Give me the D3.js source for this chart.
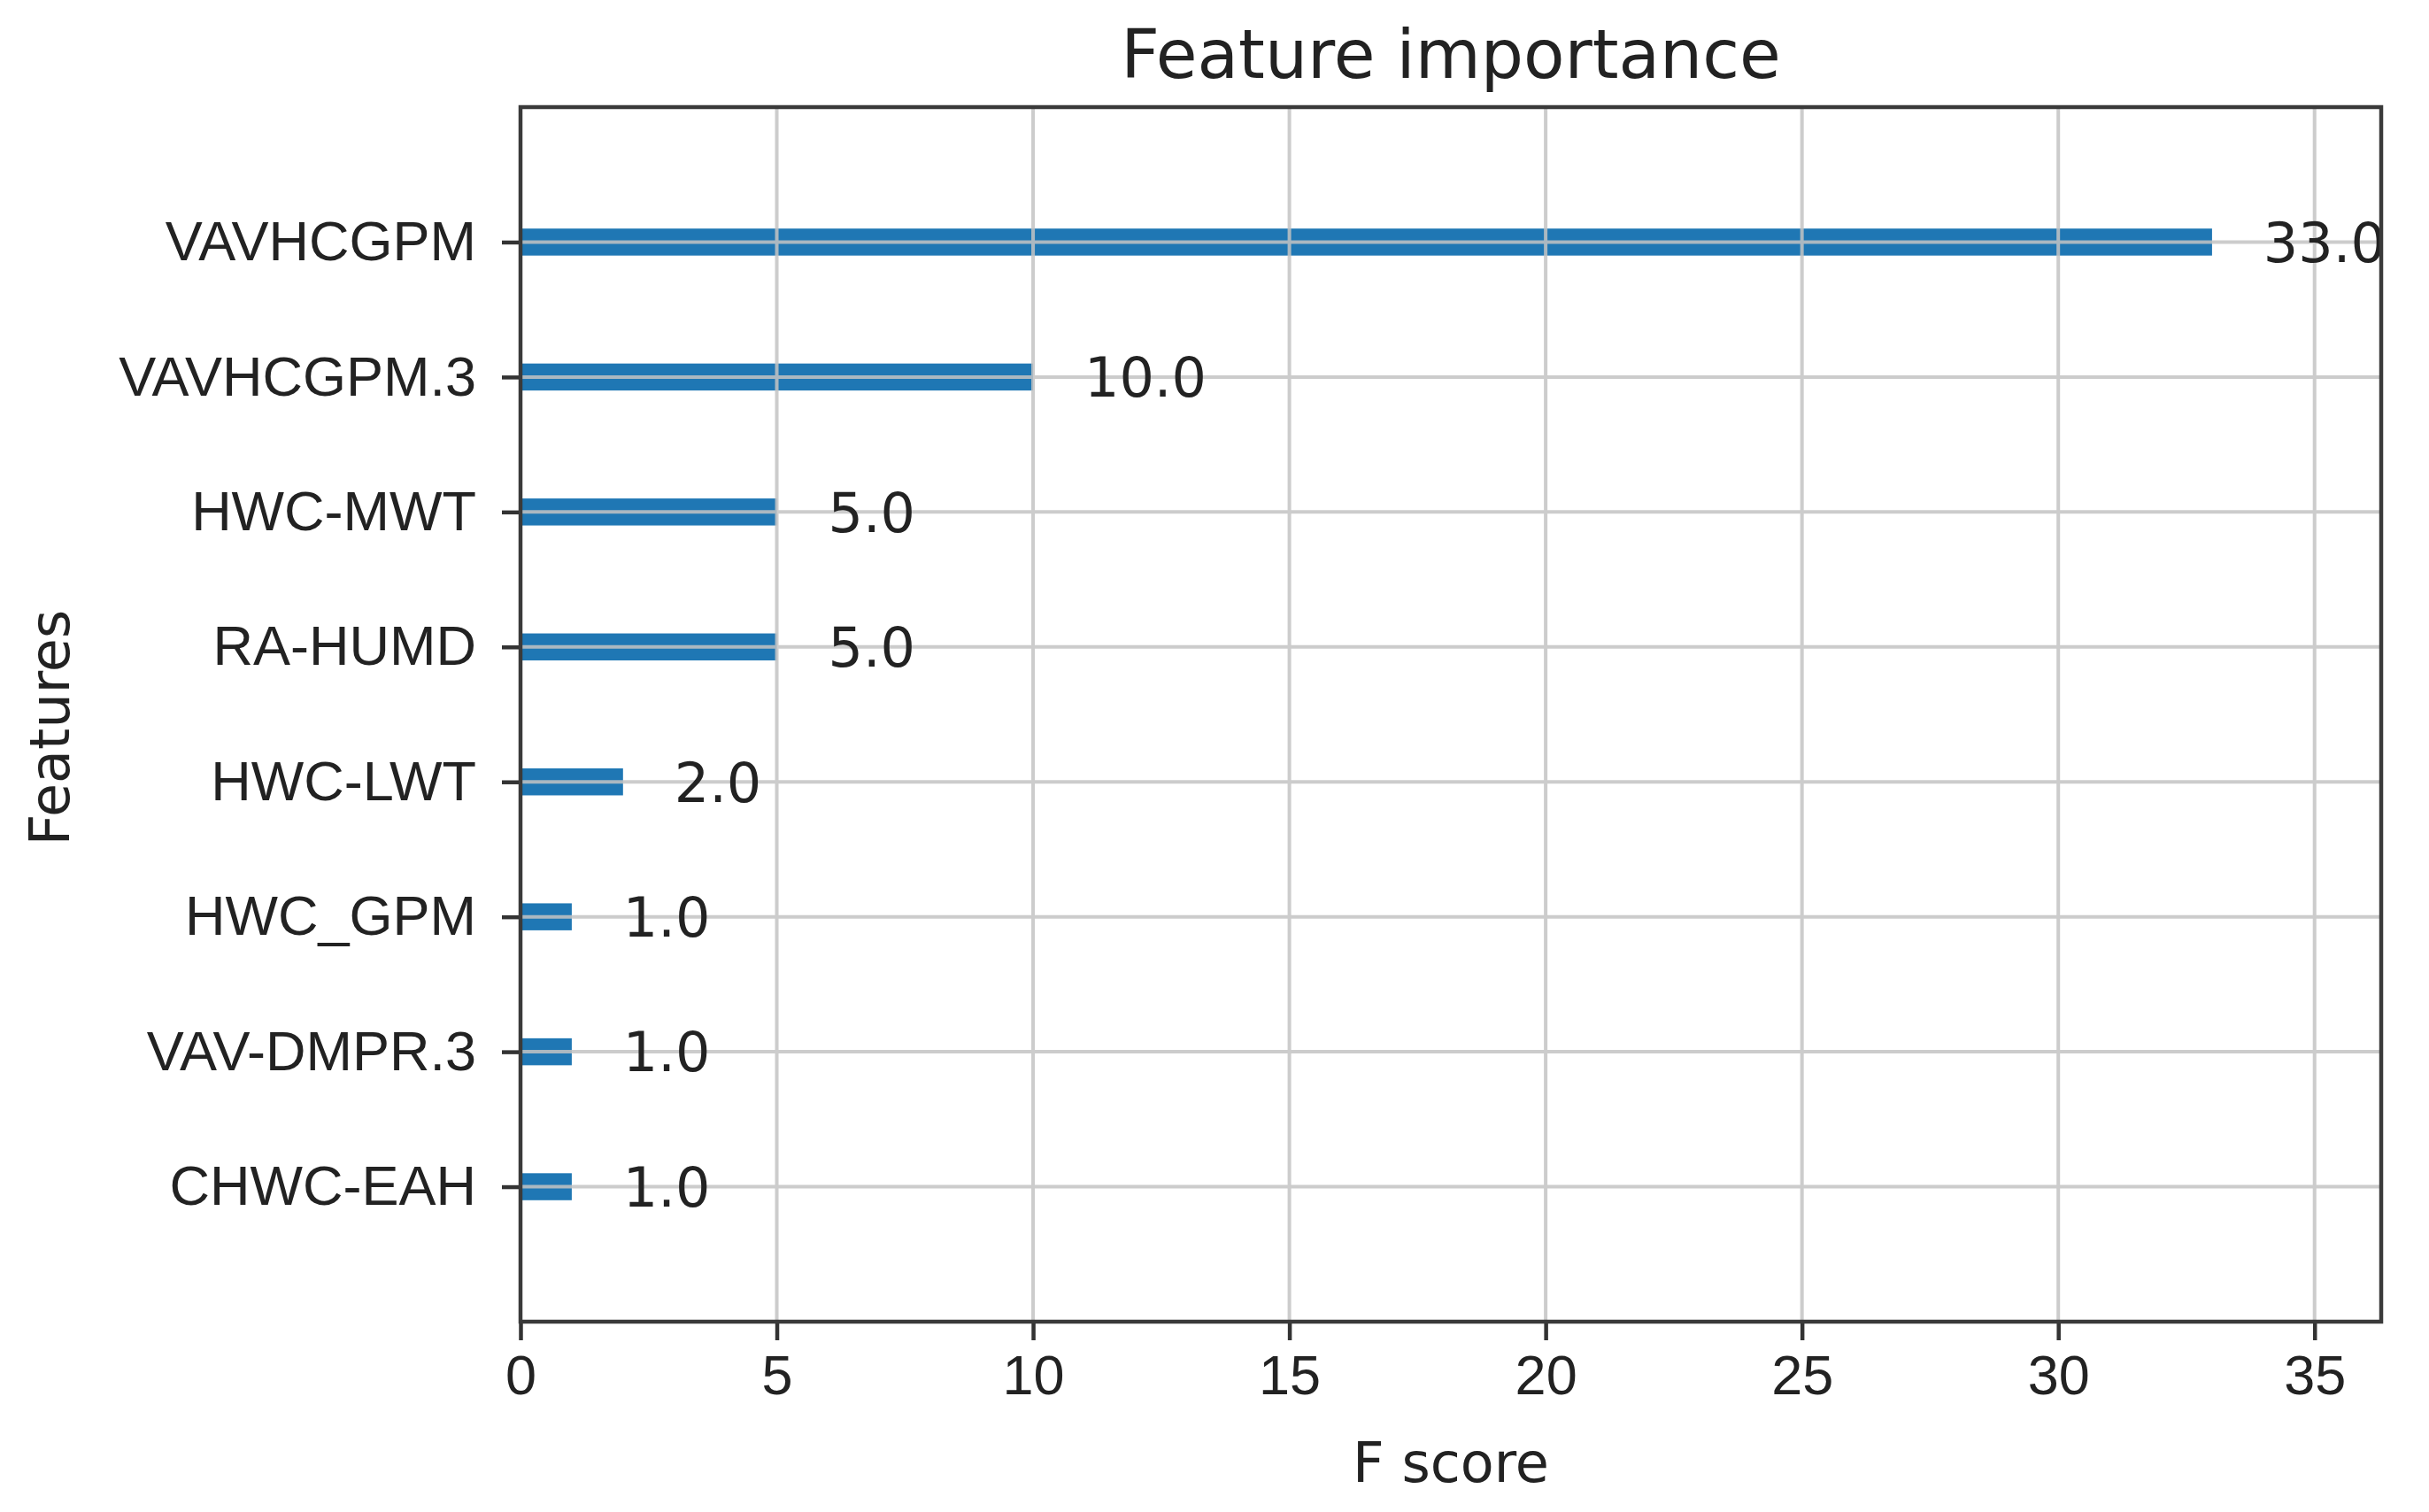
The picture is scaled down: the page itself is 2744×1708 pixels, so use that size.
<!DOCTYPE html>
<html>
<head>
<meta charset="utf-8">
<script src="https://cdn.jsdelivr.net/npm/d3@7"></script>
<style>
  body { margin: 0; background: #fff; }
  svg { display: block; font-family: "DejaVu Sans", sans-serif; }
  .axis text { font-size: 63px; fill: #222; }
  .axis .domain { display: none; }
  .axis .tick line { stroke: #333; stroke-width: 4.5; }
</style>
</head>
<body>
<svg></svg>
<script>
// chart data (top bar first)
var features = ["VAVHCGPM", "VAVHCGPM.3", "HWC-MWT", "RA-HUMD", "HWC-LWT", "HWC_GPM", "VAV-DMPR.3", "CHWC-EAH"];
var scores = [33, 10, 5, 5, 2, 1, 1, 1];
var xTicks = [0, 5, 10, 15, 20, 25, 30, 35];

var width = 2744, height = 1708;
var margin = { top: 121, right: 54, bottom: 215, left: 588 };

var svg = d3.select("svg")
    .attr("width", width)
    .attr("height", height);

var n = features.length;
var x = d3.scaleLinear()
    .domain([0, d3.max(scores) * 1.1])
    .range([margin.left, width - margin.right]);
var y = d3.scaleLinear()
    .domain([-1, n])
    .range([height - margin.bottom, margin.top]);

// position of a feature on the y scale (bottom bar at 0)
function pos(i) { return n - 1 - i; }

var barH = Math.abs(y(0.2) - y(0));

// bars
svg.append("g").selectAll("rect")
    .data(scores)
    .enter()
    .append("rect")
    .attr("x", x(0))
    .attr("y", (d, i) => y(pos(i)) - barH / 2)
    .attr("width", d => x(d) - x(0))
    .attr("height", barH)
    .attr("fill", "#1f77b4");

// grid, drawn over the bars like the reference
var grid = svg.append("g").attr("stroke", "#c4c4c4").attr("stroke-width", 4).attr("opacity", 0.85);
grid.selectAll("line.v")
    .data(xTicks)
    .enter()
    .append("line")
    .attr("x1", d => x(d)).attr("x2", d => x(d))
    .attr("y1", y.range()[1]).attr("y2", y.range()[0]);
grid.selectAll("line.h")
    .data(d3.range(n))
    .enter()
    .append("line")
    .attr("x1", x.range()[0]).attr("x2", x.range()[1])
    .attr("y1", d => y(d)).attr("y2", d => y(d));

// value labels
svg.append("g").selectAll("text")
    .data(scores)
    .enter()
    .append("text")
    .attr("x", d => x(d + 1))
    .attr("y", (d, i) => y(pos(i)))
    .attr("dy", "0.36em")
    .attr("font-size", 62)
    .attr("fill", "#222")
    .text(d => d.toFixed(1));

// axes
var xAxis = d3.axisBottom(x)
    .tickValues(xTicks)
    .tickSize(21)
    .tickPadding(16);
svg.append("g")
    .attr("class", "axis")
    .attr("transform", "translate(0," + y.range()[0] + ")")
    .call(xAxis);

var yAxis = d3.axisLeft(y)
    .tickValues(d3.range(n))
    .tickFormat(d => features[n - 1 - d])
    .tickSize(21)
    .tickPadding(29);
svg.append("g")
    .attr("class", "axis")
    .attr("transform", "translate(" + x.range()[0] + ",0)")
    .call(yAxis);

// frame
svg.append("rect")
    .attr("x", x.range()[0])
    .attr("y", y.range()[1])
    .attr("width", x.range()[1] - x.range()[0])
    .attr("height", y.range()[0] - y.range()[1])
    .attr("fill", "none")
    .attr("stroke", "#3a3a3a")
    .attr("stroke-width", 4.5);

// titles
var cx = (x.range()[0] + x.range()[1]) / 2;
svg.append("text")
    .attr("x", cx)
    .attr("y", 88)
    .attr("text-anchor", "middle")
    .attr("font-size", 76)
    .attr("fill", "#222")
    .text("Feature importance");

svg.append("text")
    .attr("x", cx)
    .attr("y", 1674)
    .attr("text-anchor", "middle")
    .attr("font-size", 62)
    .attr("fill", "#222")
    .text("F score");

svg.append("text")
    .attr("transform", "translate(78,822) rotate(-90)")
    .attr("text-anchor", "middle")
    .attr("font-size", 62)
    .attr("fill", "#222")
    .text("Features");
</script>
</body>
</html>
